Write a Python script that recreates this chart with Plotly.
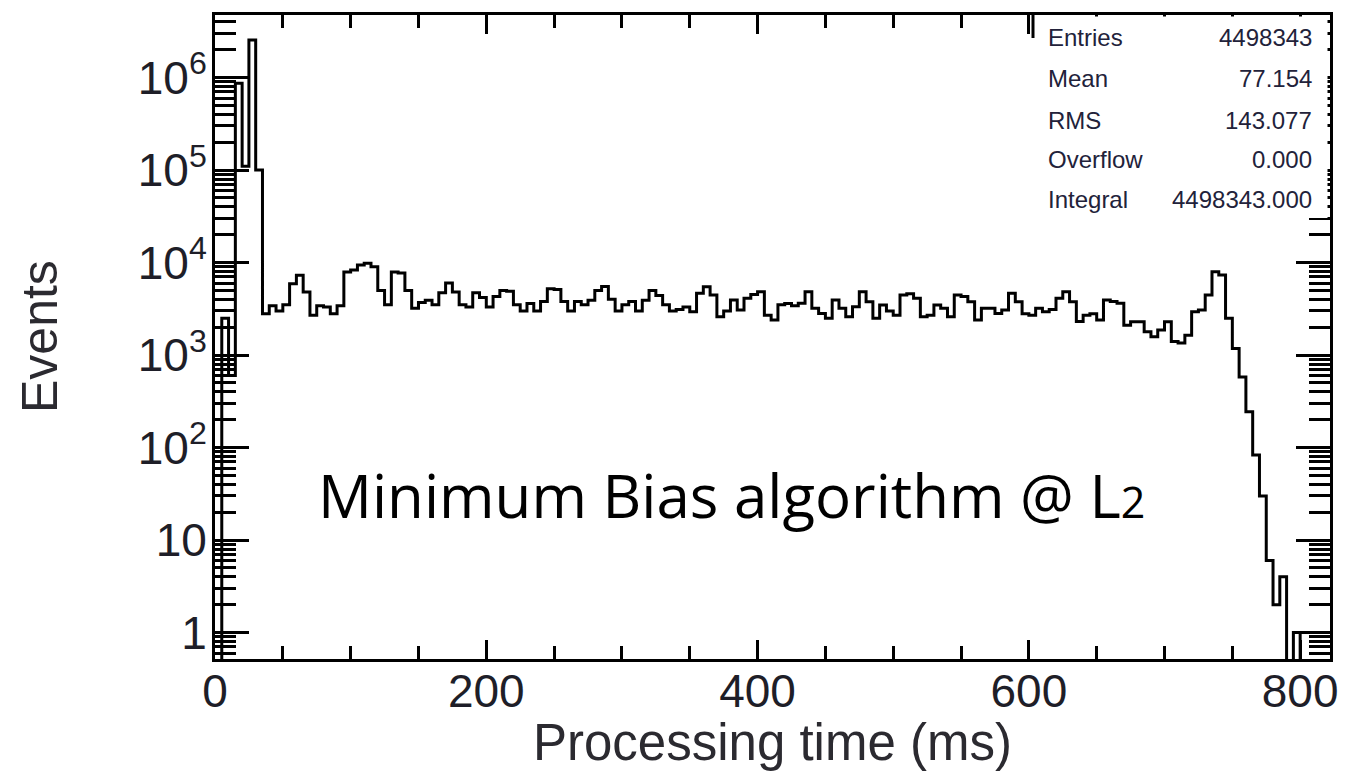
import plotly.graph_objects as go

# ---------------- data ----------------
bin_width_ms = 5
hist_low_ms = 0

# bins 0-35 ms
counts_head = [0, 2500, 600, 870000, 110000, 2540000, 100000]
# bins 35-345 ms
counts_plateau_a = [
    2800, 3400, 3000, 3500, 5900, 7300, 4800, 2700, 3400, 3300,
    2800, 3400, 7900, 8300, 9400, 9800, 9000, 5000, 3500, 7900,
    7700, 5000, 3200, 3700, 3900, 3500, 4700, 6000, 4800, 3500,
    3300, 4700, 4200, 3300, 4300, 5000, 4900, 3500, 3000, 3600,
    3000, 3800, 5200, 5100, 3800, 3000, 3800, 3500, 3900, 5000,
    5500, 4000, 3000, 3500, 3800, 3000, 3900, 5000, 4400, 3500,
    3000, 3100]
# bins 345-650 ms
counts_plateau_b = [
    3300, 2940, 4650, 5480, 4450, 2590, 3000, 3940, 3070, 4100,
    4500, 4830, 2700, 2390, 3500, 3600, 3400, 3620, 4830, 3200,
    2820, 2500, 3940, 3200, 2590, 3330, 4830, 3770, 2500, 3470,
    3000, 2700, 4450, 4600, 4100, 2590, 2700, 3470, 3200, 2590,
    4450, 4300, 3770, 2390, 3200, 3200, 2820, 3070, 4650, 3770,
    2800, 2700, 3200, 2940, 3100, 4100, 4830, 3770, 2300, 2700,
    2800]
# bins 650-745 ms
counts_edge = [
    2390, 3940, 3800, 3620, 2100, 2290, 2290, 1790, 1580, 1860,
    2290, 1400, 1350, 1640, 2940, 3070, 4450, 7960, 7330]
# bins 745-825 ms
counts_tail = [2500, 1180, 580, 244, 83, 30, 6, 2, 4, 0, 1, 0, 0, 0, 0, 0]

x_tick_vals = [0, 200, 400, 600, 800]
x_tick_text = ["0", "200", "400", "600", "800"]
y_tick_vals = [1, 10, 100, 1e3, 1e4, 1e5, 1e6]
y_tick_text = ["1", "10", "10<sup>2</sup>", "10<sup>3</sup>", "10<sup>4</sup>",
               "10<sup>5</sup>", "10<sup>6</sup>"]

stats_labels = ["Entries", "Mean", "RMS", "Overflow", "Integral"]
stats_values = ["4498343", "77.154", "143.077", "0.000", "4498343.000"]

x_title = "Processing time (ms)"
y_title = "Events"
label_text = 'Minimum Bias algorithm @ L<span style="font-size:43px">2</span>'

# ---------------- build the step histogram ----------------
counts = counts_head + counts_plateau_a + counts_plateau_b + counts_edge + counts_tail
n_bins = len(counts)
edges = [hist_low_ms + i * bin_width_ms for i in range(n_bins + 1)]
floor_val = 1e-2  # empty bins fall below the axis on a log scale
y_step = [c if c > 0 else floor_val for c in counts]
y_step = y_step + [y_step[-1]]

fig = go.Figure()
fig.add_trace(go.Scatter(
    x=edges, y=y_step, mode="lines",
    line=dict(shape="hv", color="black", width=3),
    hoverinfo="skip", showlegend=False))

minor_y = [m * 10 ** e for e in range(-1, 7) for m in range(2, 10)]

tick_font = dict(family="Liberation Sans, Arial, sans-serif", size=46, color="#1e1e28")

# the page body has an 8px margin, so the figure is made 8px smaller
FIG_W, FIG_H = 1338, 763
M_L, M_R, M_T, M_B = 207, 16, 7, 112
plot_w = FIG_W - M_L - M_R
plot_h = FIG_H - M_T - M_B

fig.update_layout(
    width=FIG_W, height=FIG_H,
    margin=dict(l=M_L, r=M_R, t=M_T, b=M_B, autoexpand=False),
    paper_bgcolor="white", plot_bgcolor="white",
    showlegend=False,
    xaxis=dict(
        range=[0, 822], tickmode="array", tickvals=x_tick_vals, ticktext=x_tick_text,
        ticks="inside", ticklen=19, tickwidth=2.5, tickcolor="black",
        showline=True, linewidth=3, linecolor="black", mirror="allticks",
        showgrid=False, zeroline=False, tickfont=tick_font, automargin=False,
        ticklabelstandoff=-10,
        minor=dict(tickmode="linear", tick0=0, dtick=50, ticks="inside",
                   ticklen=13, tickwidth=2.5, tickcolor="black", showgrid=False),
    ),
    yaxis=dict(
        type="log", range=[-0.286, 6.676], tickmode="array",
        tickvals=y_tick_vals, ticktext=y_tick_text,
        ticks="inside", ticklen=34, tickwidth=2.5, tickcolor="black",
        showline=True, linewidth=3, linecolor="black", mirror="allticks",
        showgrid=False, zeroline=False, tickfont=tick_font, automargin=False,
        ticklabelstandoff=-4,
        minor=dict(tickmode="array", tickvals=minor_y, ticks="inside",
                   ticklen=21, tickwidth=2.5, tickcolor="black", showgrid=False),
    ),
)

def px_x(xp):
    return (xp - M_L) / plot_w

def px_y(yp):
    return 1 - (yp - M_T) / plot_h

annotations = []
# axis titles
annotations.append(dict(text=x_title, xref="paper", yref="paper", x=0.5, y=0,
                        xanchor="center", yanchor="middle", yshift=-83, showarrow=False,
                        font=dict(family="Liberation Sans, Arial, sans-serif", size=51,
                                  color="#2b2a30")))
annotations.append(dict(text=y_title, xref="paper", yref="paper", x=0, y=0.5,
                        xanchor="center", yanchor="middle", xshift=-175, textangle=-90,
                        showarrow=False,
                        font=dict(family="Liberation Sans, Arial, sans-serif", size=50,
                                  color="#2b2a30")))
# big label
annotations.append(dict(text=label_text, xref="paper", yref="paper", x=0.463, y=0.255,
                        xanchor="center", yanchor="middle", showarrow=False,
                        font=dict(family="Open Sans, sans-serif", size=60, color="black")))
# stats box (window pixel positions minus the 8px page margin)
row_y_px = [38 - 8, 79 - 8, 120 - 8, 160 - 8, 199 - 8]
for lab, val, ypx in zip(stats_labels, stats_values, row_y_px):
    annotations.append(dict(text=lab, xref="paper", yref="paper", x=px_x(1046 - 8), y=px_y(ypx),
                            xanchor="left", yanchor="middle", showarrow=False,
                            font=dict(family="Liberation Sans, Arial, sans-serif", size=24,
                                      color="#22223a")))
    annotations.append(dict(text=val, xref="paper", yref="paper", x=px_x(1314 - 8), y=px_y(ypx),
                            xanchor="right", yanchor="middle", showarrow=False,
                            font=dict(family="Liberation Sans, Arial, sans-serif", size=24,
                                      color="#22223a")))
fig.update_layout(annotations=annotations)

# white stats box hiding the ticks behind it, plus its short left edge
fig.add_shape(type="rect", xref="paper", yref="paper", layer="above",
              x0=px_x(1035 - 8), x1=px_x(1327.5 - 8), y0=px_y(218 - 8), y1=px_y(16.6 - 8),
              fillcolor="white", line=dict(width=0))
fig.add_shape(type="line", xref="paper", yref="paper", layer="above",
              x0=px_x(1033 - 8), x1=px_x(1033 - 8), y0=1, y1=px_y(38 - 8),
              line=dict(color="black", width=3))

fig.write_html("out.html")
